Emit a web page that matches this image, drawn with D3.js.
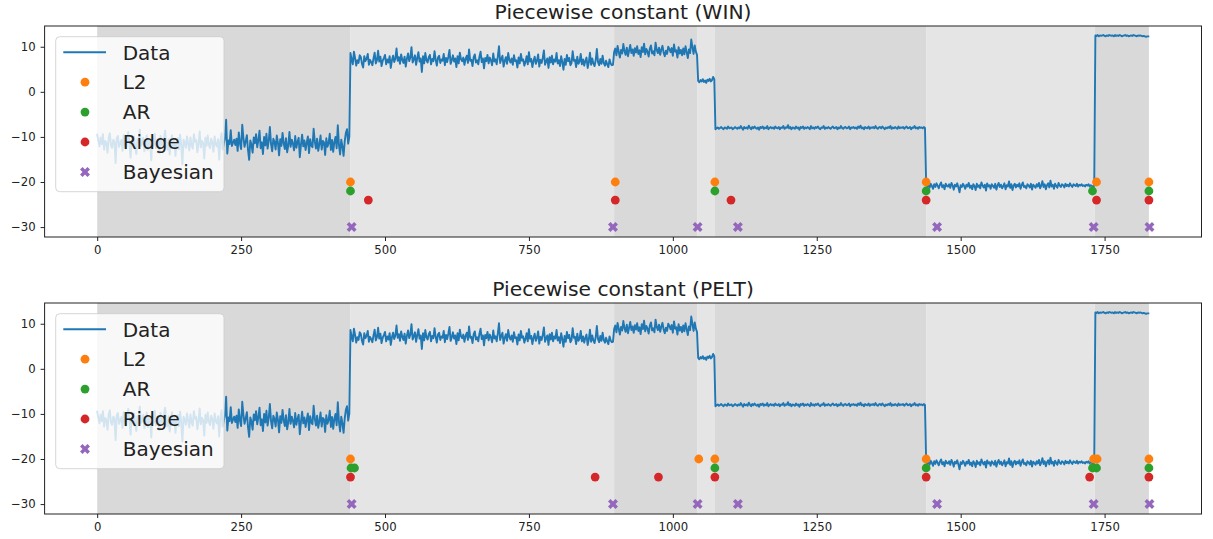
<!DOCTYPE html>
<html><head><meta charset="utf-8">
<script src="https://cdn.jsdelivr.net/npm/d3@7"></script>
<style>body{margin:0;background:#fff}svg{display:block}</style>
</head><body>
<svg id="chart" width="1213" height="539"></svg>
<script>
// ---------------- data ----------------
const sampleStep = 2;
const segmentStarts = [0, 440, 898, 1044, 1074, 1440, 1734];
const seg1 = [-9.5,-10.8,-12.1,-10.2,-11.6,-9.4,-12.8,-10.9,-11.3,-13.5,-10.1,-9.2,-11.9,-12.4,-10.6,-11.0,-15.8,-10.3,-9.8,-12.2,
-11.4,-10.7,-13.1,-9.6,-11.8,-12.6,-10.4,-8.9,-11.2,-14.6,-10.9,-11.7,-9.9,-12.3,-13.8,-10.5,-11.1,-8.4,-12.0,-11.5,
-10.2,-13.2,-11.8,-9.7,-12.9,-10.6,-11.4,-15.2,-10.0,-11.9,-9.3,-12.5,-11.1,-10.8,-13.6,-9.8,-11.6,-12.2,-10.4,-8.6,
-11.7,-12.8,-10.5,-13.9,-11.2,-9.6,-12.1,-10.9,-14.2,-11.0,-10.3,-12.7,-9.5,-11.8,-16.1,-10.6,-11.3,-12.4,-9.9,-11.5,
-13.0,-10.1,-11.9,-12.6,-9.4,-11.1,-10.7,-13.4,-11.6,-8.8,-12.3,-10.9,-11.4,-14.8,-10.2,-12.0,-9.7,-11.8,-12.5,-10.4,
-11.2,-13.3,-9.9,-11.7,-12.1,-10.5,-15.0,-11.0,-9.2,-12.8,-11.5,-10.3,-6.2,-13.7,-10.8,-11.6,-8.5,-12.0,-11.3,-10.6,
-11.8,-10.4,-13.1,-9.0,-11.5,-12.7,-7.3,-10.2,-12.2,-11.0,-9.6,-12.9,-15.1,-10.8,-11.7,-13.5,-10.1,-11.4,-9.4,-12.3,
-10.7,-8.6,-12.5,-11.2,-13.8,-10.0,-11.9,-9.3,-12.6,-10.9,-7.8,-11.6,-13.2,-10.4,-11.1,-12.8,-9.7,-11.3,-14.1,-10.5,
-12.0,-9.1,-11.4,-12.7,-10.3,-13.4,-11.8,-8.9,-12.2,-10.6,-11.5,-13.0,-9.8,-12.4,-11.1,-10.2,-14.5,-11.7,-9.5,-12.1,
-10.8,-12.9,-11.3,-9.9,-13.6,-10.5,-11.9,-12.3,-8.2,-11.0,-12.6,-10.4,-13.1,-11.6,-9.7,-12.8,-10.9,-11.2,-14.0,-10.3,
-12.2,-11.4,-9.3,-12.9,-10.7,-13.3,-11.1,-10.0,-12.5,-7.4,-11.8,-13.9,-10.6,-12.1,-14.2,-11.0,-9.1,-8.3,-11.5,-10.0];
const seg2 = [8.6,7.2,6.1,8.9,7.5,5.8,7.0,6.4,8.1,7.7,6.2,5.4,7.9,6.8,7.3,8.4,6.0,7.1,6.6,5.9,
7.4,8.7,6.3,7.0,9.1,6.7,7.8,5.7,6.9,7.5,8.2,6.1,7.2,6.5,7.9,5.3,7.0,8.0,6.6,7.4,
9.6,6.9,7.7,6.2,8.3,7.1,6.4,7.8,5.6,7.3,8.5,6.8,7.6,9.9,6.5,7.2,8.1,6.0,7.5,8.8,
6.7,7.4,4.4,7.9,6.3,8.6,7.0,6.5,7.7,8.2,6.1,7.3,6.8,9.0,7.1,5.8,7.6,8.0,6.4,7.2,
6.9,8.4,5.9,7.5,6.6,7.8,9.3,6.2,7.0,8.1,6.7,7.4,5.5,7.9,6.3,8.7,7.2,6.8,7.6,6.0,
7.3,8.0,6.4,9.4,6.9,7.1,5.7,7.7,8.3,6.5,7.0,6.1,7.8,8.9,6.6,7.4,5.2,7.5,6.8,8.2,
6.3,7.6,7.0,5.9,8.5,6.7,7.2,6.1,7.9,10.1,6.4,7.3,8.0,5.6,6.9,7.7,6.2,8.6,7.1,6.5,
7.4,6.0,8.1,6.8,7.0,5.4,7.6,6.3,8.4,6.9,7.2,5.8,6.6,7.9,6.1,8.8,6.7,7.3,5.5,6.9,
7.8,6.2,6.9,8.3,5.6,7.1,6.4,7.5,9.2,6.0,6.8,7.4,5.3,7.7,6.5,8.0,6.1,7.2,6.7,8.6,
6.3,7.0,5.7,7.9,6.6,4.9,7.3,6.0,8.2,6.8,7.5,5.9,6.4,9.0,6.9,7.1,5.5,7.8,6.2,6.7,
8.4,6.1,7.2,5.8,6.9,7.6,5.3,6.5,8.7,6.0,7.4,6.3,5.7,7.0,9.5,6.6,5.9,7.3,6.2,8.0,
6.4,5.8,6.9,6.1,5.5,7.2,6.3,5.9,6.0];
const seg3 = [8.8,9.6,8.1,10.2,8.9,7.6,9.3,8.5,10.6,9.0,8.2,9.8,7.9,9.1,10.4,8.6,9.4,8.0,9.7,8.7,
10.1,8.4,9.2,7.7,9.9,8.8,10.7,8.3,9.5,8.9,7.8,9.6,10.3,8.5,9.0,8.1,10.9,9.3,8.6,9.8,
8.2,9.4,10.2,8.7,7.9,9.1,8.4,10.0,9.5,8.8,9.7,8.0,10.5,8.9,9.2,7.6,9.9,8.5,9.3,8.1,
9.6,8.3,10.1,8.8,7.5,9.4,8.6,11.6,9.9,8.4,10.3,8.9,8.2];
const seg4 = [2.4,2.1,2.6,2.3,2.8,2.2,2.5,2.0,2.7,2.4,2.9,2.3,2.6,3.3,2.8];
const seg5 = [-8.3,-8.1,-7.9,-8.2,-8.0,-7.8,-8.1,-8.3,-7.9,-8.0,-8.2,-7.7,-8.1,-8.0,-7.9,-8.3,-8.1,-7.8,-8.0,-8.2,
-7.9,-8.1,-7.6,-8.0,-8.4,-7.8,-8.1,-7.9,-8.2,-7.5,-8.0,-8.3,-7.8,-8.1,-7.7,-8.0,-8.2,-7.9,-8.4,-7.8,
-8.0,-7.7,-8.2,-7.9,-8.1,-7.6,-8.3,-8.0,-7.8,-8.1,-7.9,-8.2,-7.7,-8.0,-8.1,-7.8,-8.3,-7.9,-8.0,-7.6,
-8.2,-7.9,-8.0,-7.4,-8.1,-7.8,-8.3,-7.9,-8.0,-8.2,-7.7,-8.1,-7.9,-8.4,-7.8,-8.0,-7.7,-8.2,-7.9,-8.1,
-7.8,-8.0,-8.3,-7.6,-8.1,-7.9,-8.2,-7.8,-8.0,-7.7,-8.1,-8.3,-7.9,-8.0,-7.6,-8.2,-7.9,-8.1,-7.8,-8.0,
-8.2,-7.9,-7.7,-8.1,-8.0,-7.8,-8.3,-7.9,-8.1,-7.6,-8.0,-8.2,-7.9,-7.8,-8.1,-8.0,-7.7,-8.3,-7.9,-8.0,
-7.8,-8.1,-7.9,-8.2,-7.7,-8.0,-7.5,-8.1,-7.9,-8.3,-7.8,-8.0,-8.1,-7.7,-8.2,-7.9,-8.0,-7.8,-8.1,-7.6,
-8.0,-8.2,-7.9,-7.8,-8.1,-7.7,-8.0,-8.3,-7.9,-8.1,-7.8,-8.0,-7.6,-8.2,-7.9,-8.1,-7.8,-8.0,-8.2,-7.7,
-8.1,-7.9,-8.0,-7.8,-8.2,-7.9,-7.7,-8.1,-8.0,-7.8,-8.3,-7.9,-8.0,-7.6,-8.1,-7.9,-8.2,-7.8,-8.0,-7.9,
-8.1,-7.8,-8.0];
const seg6 = [-20.2,-21.0,-20.6,-21.3,-20.4,-20.9,-21.5,-20.5,-21.1,-20.3,-20.8,-21.4,-20.6,-20.1,-21.2,-20.7,-21.6,-20.4,-20.9,-21.0,
-20.5,-21.3,-20.2,-20.8,-21.7,-20.6,-21.0,-20.3,-21.2,-22.3,-20.7,-21.1,-20.4,-20.9,-21.5,-20.6,-21.0,-20.2,-21.3,-20.8,
-21.6,-20.5,-20.9,-21.8,-20.4,-21.1,-20.7,-21.4,-20.1,-20.8,-21.2,-20.6,-21.9,-20.3,-21.0,-20.7,-21.5,-20.5,-20.9,-21.3,
-20.4,-21.7,-20.8,-20.2,-21.1,-20.6,-21.4,-20.9,-20.3,-21.6,-20.7,-21.0,-19.9,-21.3,-20.5,-21.8,-20.8,-20.4,-21.2,-20.6,
-21.0,-20.3,-21.5,-20.7,-20.1,-21.1,-20.9,-21.4,-20.5,-20.8,-21.2,-20.4,-21.7,-20.6,-20.9,-21.3,-20.5,-21.0,-20.2,-21.4,
-20.8,-19.8,-21.1,-20.5,-21.6,-20.7,-20.3,-21.2,-19.7,-21.0,-20.6,-21.5,-20.4,-20.9,-21.3,-20.2,-20.8,-21.1,-20.5,-20.7,
-21.2,-20.4,-20.9,-20.6,-21.0,-20.3,-20.8,-21.1,-20.5,-20.7,-20.9,-20.4,-21.0,-20.6,-20.8,-20.5,-20.9,-20.7,-21.0,-20.6,
-20.8,-20.5,-21.0,-20.7,-20.9,-21.1,-20.8];
const seg7 = [12.5,12.4,12.6,12.3,12.5,12.4,12.5,12.6,12.4,12.3,12.5,12.4,12.6,12.5,12.4,12.5,12.3,12.6,12.4,12.5,
12.4,12.6,12.5,12.3,12.4,12.5,12.6,12.4,12.5,12.3,12.4,12.5,12.4,12.6,12.5,12.4,12.3,12.5,12.4,12.5,
12.4,12.3,12.4,12.3,12.2,12.3,12.3];
const segments = [seg1, seg2, seg3, seg4, seg5, seg6, seg7];

// true change points (shaded spans)
const spanEdges = [0, 440, 898, 1043, 1073, 1440, 1733, 1827];
const spanColors = ["#d9d9d9", "#e5e5e5"];

// detected change points
const methodNames = ["L2", "AR", "Ridge", "Bayesian"];
const methodLevels = [-20, -22, -24, -30];
const methodColors = ["#ff7f0e", "#2ca02c", "#d62728", "#9467bd"];
const winL2 = [440, 900, 1073, 1440, 1736, 1827];
const winAR = [440, 1073, 1440, 1729, 1827];
const winRidge = [471, 900, 1101, 1440, 1736, 1827];
const winBayes = [442, 896, 1043, 1113, 1459, 1731, 1828];
const peltL2 = [440, 1045, 1073, 1440, 1731, 1737, 1827];
const peltAR = [441, 447, 1073, 1440, 1729, 1736, 1827];
const peltRidge = [440, 865, 975, 1073, 1440, 1724, 1827];
const peltBayes = [442, 896, 1043, 1113, 1459, 1731, 1828];

const titles = ["Piecewise constant (WIN)", "Piecewise constant (PELT)"];
const xTicks = [0, 250, 500, 750, 1000, 1250, 1500, 1750];
const yTicks = [-30, -20, -10, 0, 10];

// ---------------- build ----------------
const signal = [];
segments.forEach((seg, s) => seg.forEach((v, k) => signal.push({x: segmentStarts[s] + k * sampleStep, y: v})));

const panels = [
  {title: titles[0], sets: [winL2, winAR, winRidge, winBayes], top: 26, bottom: 237},
  {title: titles[1], sets: [peltL2, peltAR, peltRidge, peltBayes], top: 303, bottom: 514}
];

const FONT = "DejaVu Sans, sans-serif";
const svg = d3.select("#chart");
const xScale = d3.scaleLinear().domain([-91.35, 1918.35]).range([44.6, 1201.5]);
const X_SYMBOL = d3.symbol(d3.symbolCross, 62);

panels.forEach((p, pi) => {
  const y = d3.scaleLinear().domain([-32.2, 14.6]).range([p.bottom, p.top]);
  const g = svg.append("g");
  const clipId = "clip" + pi;
  svg.append("clipPath").attr("id", clipId).append("rect")
    .attr("x", 44.6).attr("y", p.top).attr("width", 1201.5 - 44.6).attr("height", p.bottom - p.top);
  const plot = g.append("g").attr("clip-path", `url(#${clipId})`);

  // spans
  d3.pairs(spanEdges).forEach(([a, b], i) => {
    plot.append("rect").attr("x", xScale(a)).attr("width", xScale(b) - xScale(a))
      .attr("y", p.top).attr("height", p.bottom - p.top).attr("fill", spanColors[i % 2]);
  });

  // signal line
  plot.append("path").datum(signal)
    .attr("d", d3.line().x(d => xScale(d.x)).y(d => y(d.y)))
    .attr("fill", "none").attr("stroke", "#1f77b4").attr("stroke-width", 1.9)
    .attr("stroke-linejoin", "round").attr("stroke-linecap", "square");

  // detected points
  p.sets.forEach((set, m) => {
    if (m < 3) {
      plot.selectAll(null).data(set).enter().append("circle")
        .attr("cx", d => xScale(d)).attr("cy", y(methodLevels[m])).attr("r", 4.4)
        .attr("fill", methodColors[m]);
    } else {
      plot.selectAll(null).data(set).enter().append("path")
        .attr("d", X_SYMBOL)
        .attr("transform", d => `translate(${xScale(d)},${y(methodLevels[m])}) rotate(45)`)
        .attr("fill", methodColors[m]);
    }
  });

  // axes frame
  g.append("rect").attr("x", 44.6).attr("y", p.top).attr("width", 1201.5 - 44.6).attr("height", p.bottom - p.top)
    .attr("fill", "none").attr("stroke", "#222").attr("stroke-width", 1);

  // x axis
  const xa = g.append("g").attr("transform", `translate(0,${p.bottom})`)
    .call(d3.axisBottom(xScale).tickValues(xTicks).tickSize(4).tickPadding(5).tickFormat(d3.format("d")));
  xa.select(".domain").remove();
  xa.selectAll("line").attr("stroke", "#222");
  xa.selectAll("text").attr("font-family", FONT).attr("font-size", 11.7).attr("fill", "#222");

  // y axis
  const ya = g.append("g").attr("transform", `translate(44.6,0)`)
    .call(d3.axisLeft(y).tickValues(yTicks).tickSize(4).tickPadding(5).tickFormat(d => d < 0 ? "\u2212" + Math.abs(d) : d));
  ya.select(".domain").remove();
  ya.selectAll("line").attr("stroke", "#222");
  ya.selectAll("text").attr("font-family", FONT).attr("font-size", 11.7).attr("fill", "#222");

  // title
  g.append("text").attr("x", (44.6 + 1201.5) / 2).attr("y", p.top - 6.8)
    .attr("text-anchor", "middle").attr("font-family", FONT).attr("font-size", 20.3).attr("fill", "#222")
    .text(p.title);

  // legend
  const lg = g.append("g").attr("transform", `translate(55.7,${p.top + 10.7})`);
  lg.append("rect").attr("width", 168.3).attr("height", 155).attr("rx", 4)
    .attr("fill", "#fff").attr("fill-opacity", 0.8).attr("stroke", "#ccc").attr("stroke-opacity", 0.8);
  const rowY = i => 15.6 + i * 29.9;
  lg.append("line").attr("x1", 7.6).attr("x2", 50.3).attr("y1", rowY(0)).attr("y2", rowY(0))
    .attr("stroke", "#1f77b4").attr("stroke-width", 1.9);
  const labels = ["Data"].concat(methodNames);
  labels.forEach((t, i) => {
    lg.append("text").attr("x", 67).attr("y", rowY(i) + 7.3)
      .attr("font-family", FONT).attr("font-size", 20).attr("fill", "#222").text(t);
  });
  methodNames.forEach((t, m) => {
    if (m < 3) {
      lg.append("circle").attr("cx", 29.3).attr("cy", rowY(m + 1)).attr("r", 4.4).attr("fill", methodColors[m]);
    } else {
      lg.append("path").attr("d", X_SYMBOL)
        .attr("transform", `translate(29.3,${rowY(m + 1)}) rotate(45)`).attr("fill", methodColors[m]);
    }
  });
});
</script>
</body></html>
